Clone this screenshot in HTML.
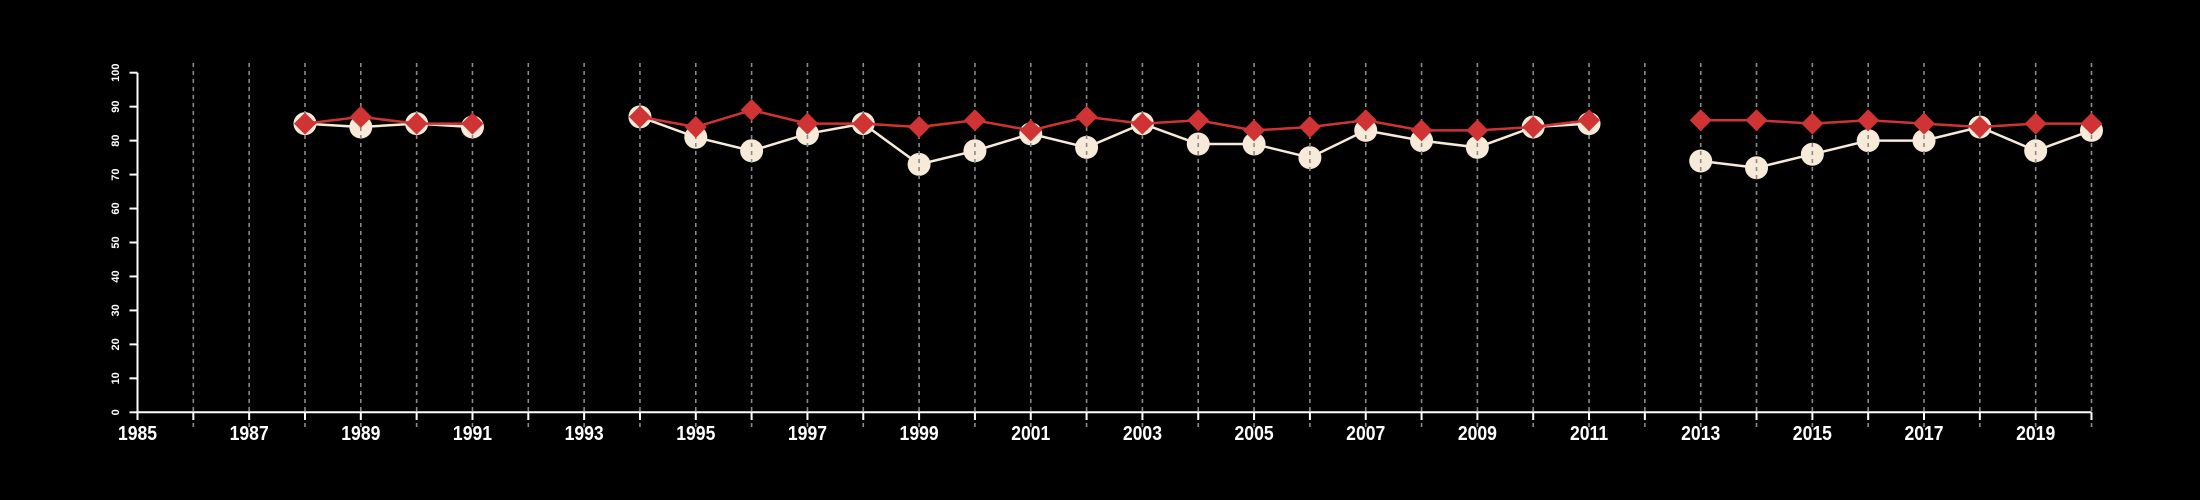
<!DOCTYPE html>
<html><head><meta charset="utf-8"><style>
html,body{margin:0;padding:0;background:#000;}
svg{display:block;}
</style></head><body>
<svg id="chart" width="2200" height="500" viewBox="0 0 2200 500" xmlns="http://www.w3.org/2000/svg">
<rect x="0" y="0" width="2200" height="500" fill="#000"/>
<g id="series-white-g"></g>
<g id="grid"></g>
<g id="axes"></g>
<g id="series-red-g"></g>
</svg>
<script>
const years = [1988,1989,1990,1991,1992,1993,1994,1995,1996,1997,1998,1999,2000,2001,2002,2003,2004,2005,2006,2007,2008,2009,2010,2011,2012,2013,2014,2015,2016,2017,2018,2019,2020];
const whiteValues = [85,84,85,84,null,null,87,81,77,82,85,73,77,82,78,85,79,79,75,83,80,78,84,85,null,74,72,76,80,80,84,77,83];
const redValues = [85,87,85,85,null,null,87,84,89,85,85,84,86,83,87,85,86,83,84,86,83,83,84,86,null,86,86,85,86,85,84,85,85];
const yTicks = [0,10,20,30,40,50,60,70,80,90,100];
const xLabels = [1985,1987,1989,1991,1993,1995,1997,1999,2001,2003,2005,2007,2009,2011,2013,2015,2017,2019];

const NS = "http://www.w3.org/2000/svg";
const X0 = 137.5, X1 = 2091.5, Y0 = 412.3, Y1 = 72.7;
const xMin = 1985, xMax = 2020;
function xs(v){ return X0 + (v - xMin) * (X1 - X0) / (xMax - xMin); }
function ys(v){ return Y0 - v * (Y0 - Y1) / 100; }
function mk(tag, attrs, parent){
  const e = document.createElementNS(NS, tag);
  for (const k in attrs) e.setAttribute(k, attrs[k]);
  parent.appendChild(e);
  return e;
}
const grid = document.getElementById('grid');
const axes = document.getElementById('axes');
const gw = document.getElementById('series-white-g');
const gr = document.getElementById('series-red-g');

// grid lines each year
for (let y = 1986; y <= 2020; y++) {
  const l = mk('line', {x1: xs(y), x2: xs(y), y1: 63, y2: 427, stroke: '#8a8a8a', 'stroke-width': 1.6, 'stroke-dasharray': '4,4'}, grid);
  
  
}
// axes
const xa = mk('line', {x1: X0, x2: X1, y1: Y0, y2: Y0, stroke: '#fff', 'stroke-width': 2}, axes);


const ya = mk('line', {x1: X0, x2: X0, y1: Y1, y2: Y0, stroke: '#fff', 'stroke-width': 2}, axes);


for (let y = 1985; y <= 2020; y++) {
  const t = mk('line', {x1: xs(y), x2: xs(y), y1: Y0, y2: 420, stroke: '#fff', 'stroke-width': 2}, axes);
  
  
}
xLabels.forEach(v => {
  const t = mk('text', {x: 0, y: 0, fill: '#fff', 'font-family': '"Liberation Sans", sans-serif', 'font-size': 20, 'font-weight': 'bold', 'text-anchor': 'middle', transform: 'translate(' + xs(v) + ',440) scale(0.88,1)'}, axes);
  t.textContent = v;
  
  
});
yTicks.forEach(v => {
  const t = mk('line', {x1: 129.5, x2: X0, y1: ys(v), y2: ys(v), stroke: '#fff', 'stroke-width': 2}, axes);
  
  
  const tx = mk('text', {x: 0, y: 0, fill: '#fff', 'font-family': '"Liberation Sans", sans-serif', 'font-size': 11, 'font-weight': 'bold', 'text-anchor': 'middle', transform: 'translate(119,' + ys(v) + ') rotate(-90)'}, axes);
  tx.textContent = v;
  
  
});

function segments(vals){
  const segs = []; let cur = [];
  vals.forEach((v, i) => {
    if (v === null) { if (cur.length) segs.push(cur); cur = []; }
    else cur.push([xs(years[i]), ys(v)]);
  });
  if (cur.length) segs.push(cur);
  return segs;
}
// white series
segments(whiteValues).forEach(s => {
  const p = mk('polyline', {points: s.map(q => q.join(',')).join(' '), fill: 'none', stroke: '#f7ead8', 'stroke-width': 2.5}, gw);
  
  
});
whiteValues.forEach((v, i) => {
  if (v === null) return;
  const c = mk('circle', {cx: xs(years[i]), cy: ys(v), r: 11.5, fill: '#f7ead8'}, gw);
  
  
});
// red series
segments(redValues).forEach(s => {
  const p = mk('polyline', {points: s.map(q => q.join(',')).join(' '), fill: 'none', stroke: '#cf3333', 'stroke-width': 2.5}, gr);
  
  
});
redValues.forEach((v, i) => {
  if (v === null) return;
  const x = xs(years[i]), y = ys(v), d = 11;
  const p = mk('polygon', {points: [x, y - d, x + d, y, x, y + d, x - d, y].join(' ').replace(/(\S+) (\S+)/g, '$1,$2'), fill: '#cf3333'}, gr);
  
  
});
</script>
</body></html>
